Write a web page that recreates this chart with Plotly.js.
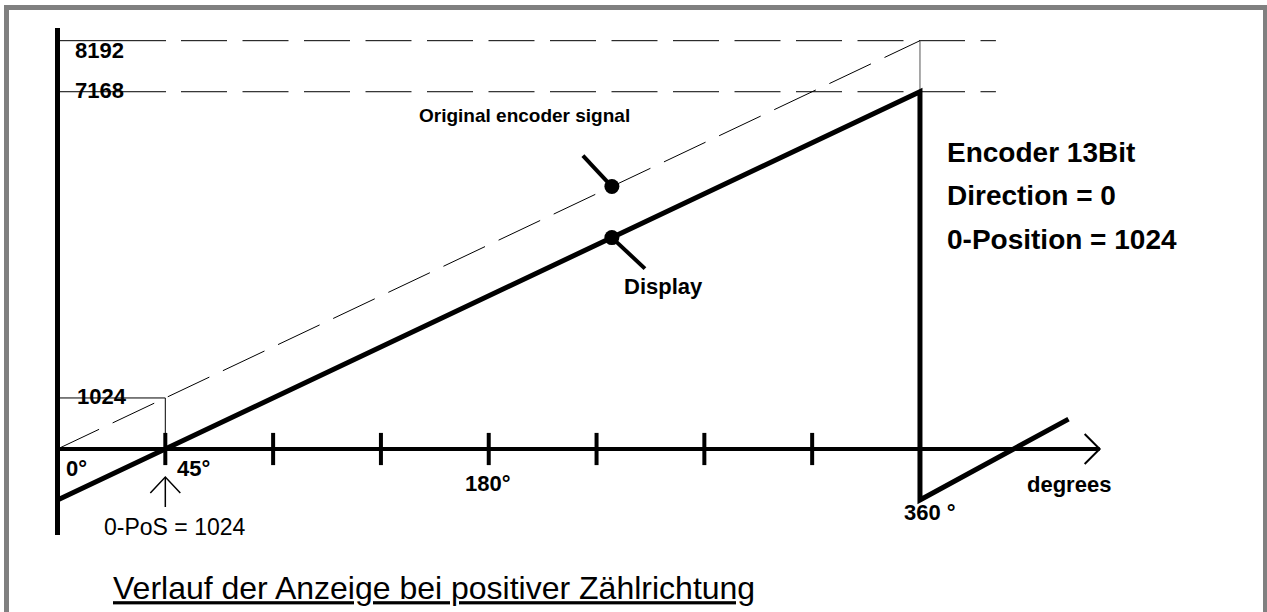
<!DOCTYPE html>
<html><head><meta charset="utf-8">
<script src="https://cdn.plot.ly/plotly-3.0.1.min.js"></script>
<style>
html,body{margin:0;padding:0;background:#fff;overflow:hidden}
#chart{position:absolute;left:0;top:0;width:1267px;height:612px}
#frame{position:absolute;left:4px;top:5px;width:1254px;height:640px;border:5px solid #808080;border-bottom:none;pointer-events:none}
</style></head>
<body>
<div id="chart"></div>
<div id="frame"></div>
<script>
// ---------------- data (degrees on x, encoder counts on y) ----------------
const levelValues = [8192, 7168, 1024];
const levelLabels = ['8192', '7168', '1024'];
const tickDegrees = [45, 90, 135, 180, 225, 270, 315];
const degreeLabelAt = [0, 45, 180, 360];
const degreeLabels = ['0°', '45°', '180°', '360 °'];
const originalDeg = [0, 360];
const originalVal = [0, 8192];
const displayDeg = [0, 360, 360, 422];
const displayVal = [-1024, 7168, -1024, 600];
const zeroPosDeg = 45;
const zeroPosVal = 1024;
const fullTurnDeg = 360;
const axisEndDeg = 435;
const yAxisExtent = [-1725, 8446];
const markerDeg = [231.4, 231.4];
const markerVal = [5266, 4241];
const originalLeaderDeg = [231.4, 219.3];
const originalLeaderVal = [5266, 5888];
const displayLeaderDeg = [231.4, 245.2];
const displayLeaderVal = [4241, 3619];
const levelSolidDeg = [0, 45.3];
const levelDashDeg = [51.55, 391.7];
const infoLines = ['Encoder 13Bit', 'Direction = 0', '0-Position = 1024'];
const zeroPosText = '0-PoS = 1024';
const titleText = 'Verlauf der Anzeige bei positiver Zählrichtung';

// ---------------- layout geometry ----------------
const W = 1267, H = 612;
const X_RANGE = [-24.0, 504.85];
const Y_RANGE = [-3270.2, 9008.1];
const pxPerDeg = W / (X_RANGE[1] - X_RANGE[0]);
const pxPerVal = H / (Y_RANGE[1] - Y_RANGE[0]);
const FONT = 'Liberation Sans, Arial, Helvetica, sans-serif';
const BLACK = '#000';

function line(x, y, width, extra) {
  return Object.assign({type: 'scatter', mode: 'lines', x: x, y: y, hoverinfo: 'skip',
    line: Object.assign({color: BLACK, width: width}, extra || {})});
}

const traces = [];
// original encoder signal (thin dashed)
traces.push(line(originalDeg, originalVal, 1, {dash: '46px,15px'}));
// level guide lines 8192 / 7168
[levelValues[0], levelValues[1]].forEach(v => {
  traces.push(line(levelSolidDeg, [v, v], 1));
  traces.push(line(levelDashDeg, [v, v], 1, {dash: '46px,15.5px'}));
});
// 1024 guide at 0-position
traces.push(line([0, zeroPosDeg, zeroPosDeg], [zeroPosVal, zeroPosVal, 0], 1));
// 360 guide between 7168 and 8192
traces.push(line([fullTurnDeg, fullTurnDeg], [levelValues[1], levelValues[0]], 1, {color: '#555'}));
// y axis
traces.push(line([0, 0], yAxisExtent, 5));
// x axis
traces.push(line([0, axisEndDeg], [0, 0], 4));
// x axis arrow head (open chevron, 15px)
const hdx = 15 / pxPerDeg, hdy = 15 / pxPerVal;
traces.push(line([axisEndDeg - hdx, axisEndDeg, axisEndDeg - hdx], [hdy, 0, -hdy], 2));
// degree ticks
traces.push({type: 'scatter', mode: 'markers', x: tickDegrees, y: tickDegrees.map(() => 0), hoverinfo: 'skip',
  marker: {symbol: 'line-ns-open', size: 23, color: BLACK, line: {width: 4, color: BLACK}}});
// display curve
traces.push(line(displayDeg, displayVal, 5));
// leaders
traces.push(line(originalLeaderDeg, originalLeaderVal, 4));
traces.push(line(displayLeaderDeg, displayLeaderVal, 4));
// dots
traces.push({type: 'scatter', mode: 'markers', x: markerDeg, y: markerVal, hoverinfo: 'skip',
  marker: {symbol: 'circle', size: 15, color: BLACK}});
// 0-PoS arrow (tip 28px below axis, 30px shaft)
const tipVal = -28 / pxPerVal, tailVal = -58 / pxPerVal;
traces.push(line([zeroPosDeg, zeroPosDeg], [tailVal, tipVal], 1.5));
traces.push(line([zeroPosDeg - hdx, zeroPosDeg, zeroPosDeg + hdx], [tipVal - 16 / pxPerVal, tipVal, tipVal - 16 / pxPerVal], 1.5));

// ---------------- text ----------------
function label(text, x, y, size, bold, extra) {
  return Object.assign({text: bold ? '<b>' + text + '</b>' : text, x: x, y: y, xref: 'x', yref: 'y',
    xanchor: 'left', yanchor: 'middle', showarrow: false,
    font: {family: FONT, size: size, color: BLACK}}, extra || {});
}
const annotations = [
  label(levelLabels[0], 6.47, 7995, 22, true),
  label(levelLabels[1], 6.47, 7202, 22, true),
  label(levelLabels[2], 7.3, 1053, 22, true),
  label(degreeLabels[0], 2.71, -391, 22, true),
  label(degreeLabels[1], 49.04, -401, 22, true),
  label(degreeLabels[2], 169.25, -702, 22, true),
  label(degreeLabels[3], 352.5, -1274, 22, true),
  label('degrees', 403.8, -722, 22, true),
  label(zeroPosText, 18.57, -1555, 23, false),
  label('Original encoder signal', 150.06, 6691, 19, true),
  label('Display', 235.62, 3270, 22, true),
  label(infoLines[0], 370.4, 5948, 28, true),
  label(infoLines[1], 370.4, 5076, 28, true),
  label(infoLines[2], 370.4, 4203, 28, true)
];

const layout = {
  width: W, height: H,
  margin: {l: 0, r: 0, t: 0, b: 0, pad: 0},
  paper_bgcolor: '#fff', plot_bgcolor: '#fff',
  showlegend: false,
  xaxis: {range: X_RANGE, visible: false, fixedrange: true},
  yaxis: {range: Y_RANGE, visible: false, fixedrange: true},
  title: {text: titleText, x: 113 / W, xanchor: 'left', xref: 'container',
    y: 1 - 588 / H, yanchor: 'middle', yref: 'container',
    font: {family: FONT, size: 32, color: BLACK, lineposition: 'under'}},
  annotations: annotations
};

Plotly.newPlot('chart', traces, layout, {staticPlot: true, displayModeBar: false});
</script>
</body></html>
